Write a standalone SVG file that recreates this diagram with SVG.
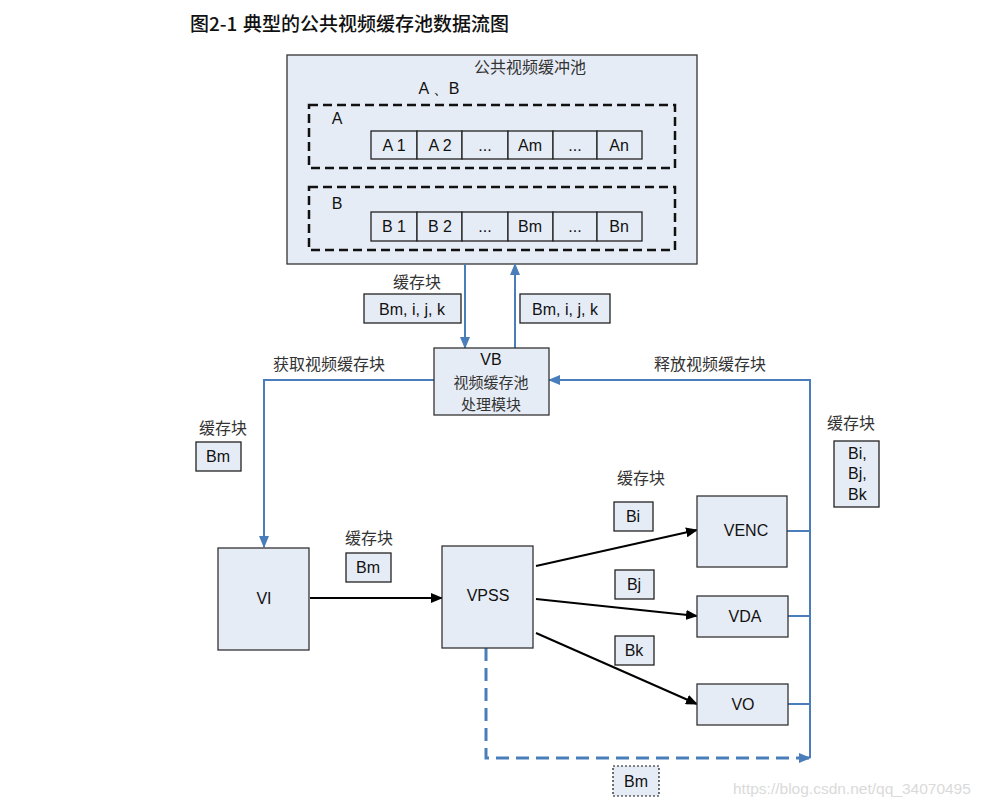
<svg xmlns="http://www.w3.org/2000/svg" width="986" height="807" viewBox="0 0 986 807">
<style>
.bx{fill:#e6ecf6;stroke:#333;stroke-width:1.3}
.cell{fill:#e6ecf6;stroke:#222;stroke-width:1.3}
.dash{fill:none;stroke:#111;stroke-width:2.5;stroke-dasharray:9,5}
.en{font-family:"Liberation Sans",Arial,sans-serif;font-size:16px;fill:#111;text-anchor:middle;dominant-baseline:central}
.cn{font-family:"Noto Sans CJK SC",sans-serif;font-size:16px;fill:#333;text-anchor:middle;dominant-baseline:central}
.blue{fill:none;stroke:#4a7ebb;stroke-width:2}
.bdash{fill:none;stroke:#4a7ebb;stroke-width:3;stroke-dasharray:13,7}
.blk{fill:none;stroke:#000;stroke-width:2}
</style>
<defs>
<marker id="ab" markerWidth="12" markerHeight="10" refX="11" refY="5" orient="auto" markerUnits="userSpaceOnUse"><path d="M0,0 L12,5 L0,10 Z" fill="#4a7ebb"/></marker>
<marker id="ak" markerWidth="12" markerHeight="10" refX="11" refY="5" orient="auto" markerUnits="userSpaceOnUse"><path d="M0,0 L12,5 L0,10 Z" fill="#000"/></marker>
</defs>
<rect width="986" height="807" fill="#fff"/>
<text y="22" style="font-family:'Noto Sans CJK SC',sans-serif;font-size:19px;fill:#111;dominant-baseline:central;font-weight:500"><tspan x="190">图2-1</tspan><tspan x="243">典型的公共视频缓存池数据流图</tspan></text>

<g id="pool">
<rect class="bx" x="287" y="55" width="410" height="209"/>
<text class="cn" x="530" y="66">公共视频缓冲池</text>
<text class="en" x="439" y="88">A 、B</text>
</g>
<g id="groupA">
<rect class="dash" x="309" y="105" width="366" height="63"/>
<text class="en" x="337" y="118">A</text>
<rect class="cell" x="371" y="131" width="46" height="28"/><text class="en" x="394" y="145">A 1</text>
<rect class="cell" x="417" y="131" width="45" height="28"/><text class="en" x="440" y="145">A 2</text>
<rect class="cell" x="462" y="131" width="46" height="28"/><text class="en" x="485" y="145">...</text>
<rect class="cell" x="508" y="131" width="45" height="28"/><text class="en" x="530" y="145">Am</text>
<rect class="cell" x="553" y="131" width="44" height="28"/><text class="en" x="575" y="145">...</text>
<rect class="cell" x="597" y="131" width="45" height="28"/><text class="en" x="619" y="145">An</text>
</g>
<g id="groupB">
<rect class="dash" x="309" y="187" width="366" height="63"/>
<text class="en" x="337" y="203">B</text>
<rect class="cell" x="371" y="212" width="46" height="29"/><text class="en" x="394" y="226">B 1</text>
<rect class="cell" x="417" y="212" width="45" height="29"/><text class="en" x="440" y="226">B 2</text>
<rect class="cell" x="462" y="212" width="46" height="29"/><text class="en" x="485" y="226">...</text>
<rect class="cell" x="508" y="212" width="45" height="29"/><text class="en" x="530" y="226">Bm</text>
<rect class="cell" x="553" y="212" width="44" height="29"/><text class="en" x="575" y="226">...</text>
<rect class="cell" x="597" y="212" width="45" height="29"/><text class="en" x="619" y="226">Bn</text>
</g>

<g id="connectors">
<path class="blue" d="M465,264 V348" marker-end="url(#ab)"/>
<path class="blue" d="M515,348 V264" marker-end="url(#ab)"/>
<path class="blue" d="M434,380 H264 V547" marker-end="url(#ab)"/>
<path class="blue" d="M810,758 V380 H549" marker-end="url(#ab)"/>
<path class="blue" d="M787,531 H810 M788,616 H810 M788,704 H810"/>
<path class="bdash" d="M486,648 V758 H810" marker-end="url(#ab)"/>
<path class="blk" d="M310,598 H442" marker-end="url(#ak)"/>
<path class="blk" d="M536,566 L697,530" marker-end="url(#ak)"/>
<path class="blk" d="M536,599 L697,616" marker-end="url(#ak)"/>
<path class="blk" d="M536,633 L697,704" marker-end="url(#ak)"/>
</g>

<g id="labels">
<text class="cn" x="417" y="281">缓存块</text>
<rect class="cell" x="364" y="294" width="97" height="29"/><text class="en" x="412" y="309">Bm, i, j, k</text>
<rect class="cell" x="520" y="294" width="90" height="29"/><text class="en" x="565" y="309">Bm, i, j, k</text>
<text class="cn" x="329" y="363">获取视频缓存块</text>
<text class="cn" x="710" y="363">释放视频缓存块</text>
<text class="cn" x="223" y="427">缓存块</text>
<rect class="cell" x="196" y="442" width="45" height="29"/><text class="en" x="218" y="456">Bm</text>
<text class="cn" x="851" y="422">缓存块</text>
<rect class="cell" x="834" y="441" width="45" height="66"/>
<text class="en" x="848" y="453" style="text-anchor:start">Bi,</text>
<text class="en" x="848" y="473" style="text-anchor:start">Bj,</text>
<text class="en" x="848" y="494" style="text-anchor:start">Bk</text>
<text class="cn" x="369" y="537">缓存块</text>
<rect class="cell" x="346" y="553" width="45" height="29"/><text class="en" x="368" y="567">Bm</text>
<text class="cn" x="641" y="477">缓存块</text>
<rect class="cell" x="614" y="502" width="39" height="29"/><text class="en" x="633" y="516">Bi</text>
<rect class="cell" x="615" y="570" width="39" height="29"/><text class="en" x="634" y="584">Bj</text>
<rect class="cell" x="615" y="636" width="39" height="29"/><text class="en" x="634" y="650">Bk</text>
<rect x="613" y="766" width="46" height="30" fill="#e6ecf6" stroke="#111" stroke-width="1.2" stroke-dasharray="2,2"/><text class="en" x="636" y="781">Bm</text>
</g>

<g id="VB">
<rect class="bx" x="434" y="348" width="115" height="67"/>
<text class="en" x="491" y="359">VB</text>
<text class="cn" x="491" y="381" style="font-size:15px">视频缓存池</text>
<text class="cn" x="491" y="403" style="font-size:15px">处理模块</text>
</g>
<g id="VI"><rect class="bx" x="218" y="548" width="91" height="102"/><text class="en" x="264" y="598">VI</text></g>
<g id="VPSS"><rect class="bx" x="442" y="546" width="91" height="102"/><text class="en" x="488" y="595">VPSS</text></g>
<g id="VENC"><rect class="bx" x="697" y="496" width="90" height="71"/><text class="en" x="746" y="530">VENC</text></g>
<g id="VDA"><rect class="bx" x="697" y="596" width="91" height="41"/><text class="en" x="745" y="616">VDA</text></g>
<g id="VO"><rect class="bx" x="697" y="684" width="91" height="41"/><text class="en" x="743" y="704">VO</text></g>

<text x="733" y="788" style="font-family:'Liberation Sans',Arial,sans-serif;font-size:15.5px;fill:#dadada;dominant-baseline:central">https://blog.csdn.net/qq_34070495</text>
</svg>
